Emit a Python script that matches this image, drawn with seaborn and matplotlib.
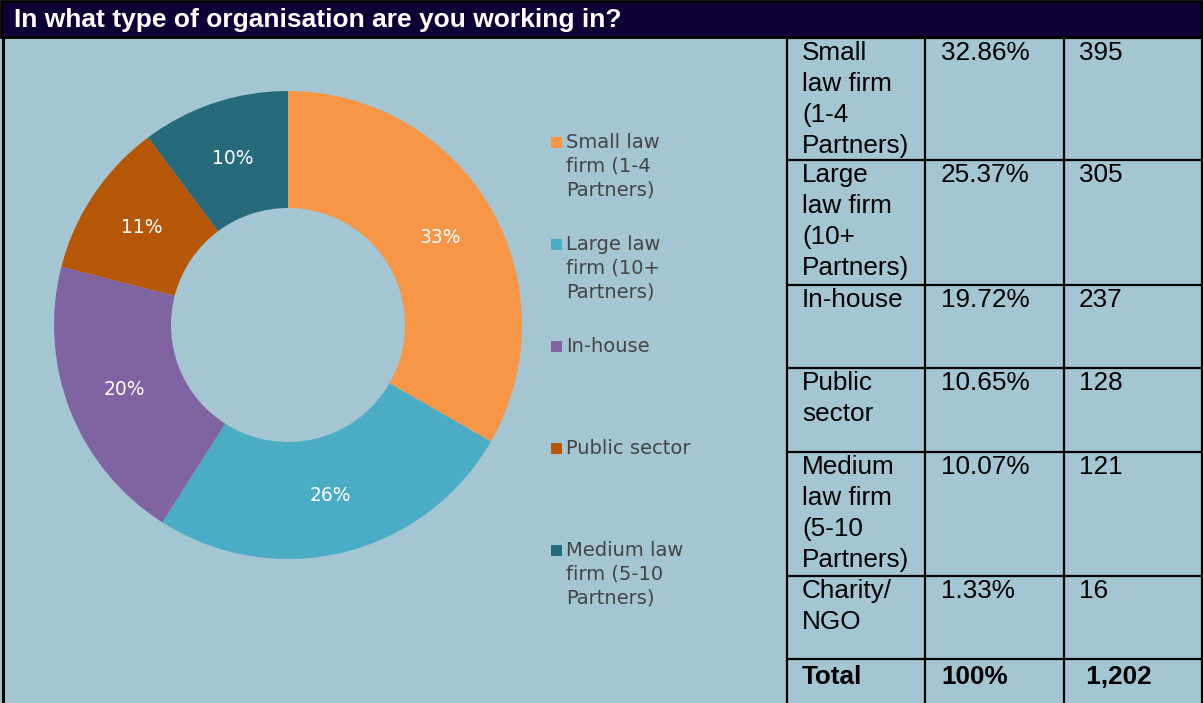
import numpy as np
import pandas as pd
import matplotlib
matplotlib.use("Agg")
import matplotlib.pyplot as plt
from matplotlib.patches import Rectangle
import seaborn as sns

# survey data
title = "In what type of organisation are you working in?"
table_labels = ["Small\nlaw firm\n(1-4\nPartners)", "Large\nlaw firm\n(10+\nPartners)", "In-house",
                "Public\nsector", "Medium\nlaw firm\n(5-10\nPartners)", "Charity/\nNGO"]
table_pcts = ["32.86%", "25.37%", "19.72%", "10.65%", "10.07%", "1.33%"]
counts = [395, 305, 237, 128, 121, 16]
total_label = ["Total", "100%", " 1,202"]

pie_labels = ["Small law\nfirm (1-4\nPartners)", "Large law\nfirm (10+\nPartners)", "In-house",
              "Public sector", "Medium law\nfirm (5-10\nPartners)"]
pie_counts = counts[:5]
pie_colors = ["#F79646", "#4BACC6", "#8064A2", "#B65708", "#276A7C"]

bg = "#A3C6D2"
navy = "#0E0034"

sns.set_theme(style="white", rc={"figure.facecolor": bg, "axes.facecolor": bg})
plt.rcParams["font.family"] = ["DejaVu Sans"]

W, H = 1203, 703
fig = plt.figure(figsize=(W / 100, H / 100), dpi=100)

# overlay in pixel coords for header + table
ov = fig.add_axes([0, 0, 1, 1])
ov.set_xlim(0, W)
ov.set_ylim(H, 0)
ov.axis("off")

ov.add_patch(Rectangle((1, 1), W - 2, 36, facecolor=navy, edgecolor="black", lw=2))
ov.text(14, 20, title, color="white", fontsize=19, fontweight="bold",
        family="Liberation Sans", va="center", ha="left")
ov.plot([3, 3], [37, H], color="black", lw=2.2)

# table grid
row_edges = [38, 160, 285, 368, 452, 576, 659, 703]
col_edges = [787, 925, 1064, 1202]
for y in row_edges[:-1]:
    ov.plot([col_edges[0], W], [y, y], color="black", lw=1.6)
for x in col_edges:
    ov.plot([x, x], [37, H], color="black", lw=1.6)

text_x = [802, 941, 1079]
rows = list(zip(table_labels, table_pcts, [str(c) for c in counts]))
for i, cells in enumerate(rows):
    for j, txt in enumerate(cells):
        ov.text(text_x[j], row_edges[i] + 3, txt, fontsize=18.8, family="Liberation Sans",
                va="top", ha="left", color="black", linespacing=1.36)
for j, txt in enumerate(total_label):
    ov.text(text_x[j], row_edges[6] + 6, txt, fontsize=18.8, family="Liberation Sans",
            fontweight="bold", va="top", ha="left", color="black")

# donut
cx, cy, r = 288, 325, 234
ax = fig.add_axes([(cx - r) / W, (H - cy - r) / H, 2 * r / W, 2 * r / H])
ax.set_facecolor("none")
wedges, _, autotexts = ax.pie(pie_counts, colors=pie_colors, startangle=90, counterclock=False,
                              autopct="%.0f%%", pctdistance=0.75,
                              wedgeprops=dict(width=0.5, linewidth=0),
                              textprops=dict(color="white", fontsize=13.5))
ax.set_xlim(-1, 1)
ax.set_ylim(-1, 1)
ax.set_aspect("equal")
ax.axis("off")

# legend, one entry every 102 px
for k, (lab, col) in enumerate(zip(pie_labels, pie_colors)):
    y0 = 142 + 102 * k
    ov.add_patch(Rectangle((551, y0 - 5), 11, 11, facecolor=col, edgecolor="none"))
    ov.text(566, y0 - 9, lab, fontsize=14, color="#444444", va="top", ha="left", linespacing=1.32)

fig.savefig("out.png", dpi=100, facecolor=bg)
